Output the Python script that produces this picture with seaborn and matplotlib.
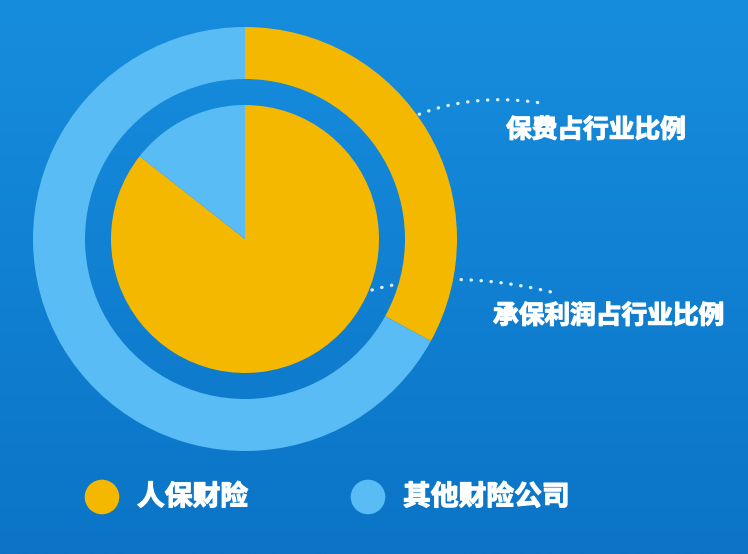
import numpy as np
import matplotlib
matplotlib.use('Agg')
import matplotlib.pyplot as plt
import matplotlib.patheffects as pe
from matplotlib.colors import LinearSegmentedColormap
import seaborn as sns

# Data
companies = ['人保财险', '其他财险公司']
premium_share = [33.0, 67.0]     # outer ring: 保费占行业比例
profit_share = [85.6, 14.4]      # inner pie: 承保利润占行业比例
metric_labels = ['保费占行业比例', '承保利润占行业比例']
company_colors = ['#F5B800', '#5ABCF4']

sns.set_theme(style='white')
plt.rcParams['font.family'] = ['Noto Sans CJK SC', 'DejaVu Sans']

W, H = 748, 554
fig = plt.figure(figsize=(W / 100, H / 100), dpi=100)
ax = fig.add_axes([0, 0, 1, 1])

# Background gradient
bg = LinearSegmentedColormap.from_list('bg', ['#0B74C6', '#178DDE'])
ax.imshow(np.linspace(0, 1, 256).reshape(-1, 1), cmap=bg, origin='lower',
          extent=[0, W, 0, H], aspect='auto', zorder=0)

cx, cy = 245, H - 239

# Outer ring: premium share
ax.pie(premium_share, colors=company_colors, radius=212, center=(cx, cy),
       startangle=90, counterclock=False,
       wedgeprops=dict(width=52, linewidth=0, zorder=3))
# Inner pie: underwriting profit share
ax.pie(profit_share, colors=company_colors, radius=134, center=(cx, cy),
       startangle=90, counterclock=False,
       wedgeprops=dict(linewidth=0, zorder=3))


# Dotted leader lines (curved)
def dotted_curve(p0, p1, p2):
    t = np.linspace(0, 1, 80)
    x = (1 - t) ** 2 * p0[0] + 2 * (1 - t) * t * p1[0] + t ** 2 * p2[0]
    y = (1 - t) ** 2 * p0[1] + 2 * (1 - t) * t * p1[1] + t ** 2 * p2[1]
    ax.plot(x, H - y, color='#DCEFFC', linewidth=2.4,
            linestyle=(0, (0.1, 2.9)), dash_capstyle='round', zorder=2)


dotted_curve((410, 118), (470, 92), (541, 103))
dotted_curve((372, 290), (450, 268), (551, 292))

# Text looks heavier in the original, add a thin stroke
heavy = [pe.withStroke(linewidth=0.9, foreground='white')]

# Metric labels
ax.text(506, H - 130, metric_labels[0], color='white', fontsize=18.5,
        fontweight='bold', ha='left', va='center', zorder=5, path_effects=heavy)
ax.text(493, H - 316, metric_labels[1], color='white', fontsize=18.5,
        fontweight='bold', ha='left', va='center', zorder=5, path_effects=heavy)

# Legend
leg_x = [102, 368]
leg_y = [H - 497, H - 497]
sns.scatterplot(x=leg_x, y=leg_y, hue=companies, palette=company_colors,
                s=620, linewidth=0, legend=False, ax=ax, zorder=5)
for x, name in zip(leg_x, companies):
    ax.text(x + 35, H - 497, name, color='white', fontsize=20,
            fontweight='bold', ha='left', va='center', zorder=5,
            path_effects=heavy)

ax.set_xlim(0, W)
ax.set_ylim(0, H)
ax.set_aspect('auto')
ax.axis('off')

fig.savefig('out.png', dpi=100)
